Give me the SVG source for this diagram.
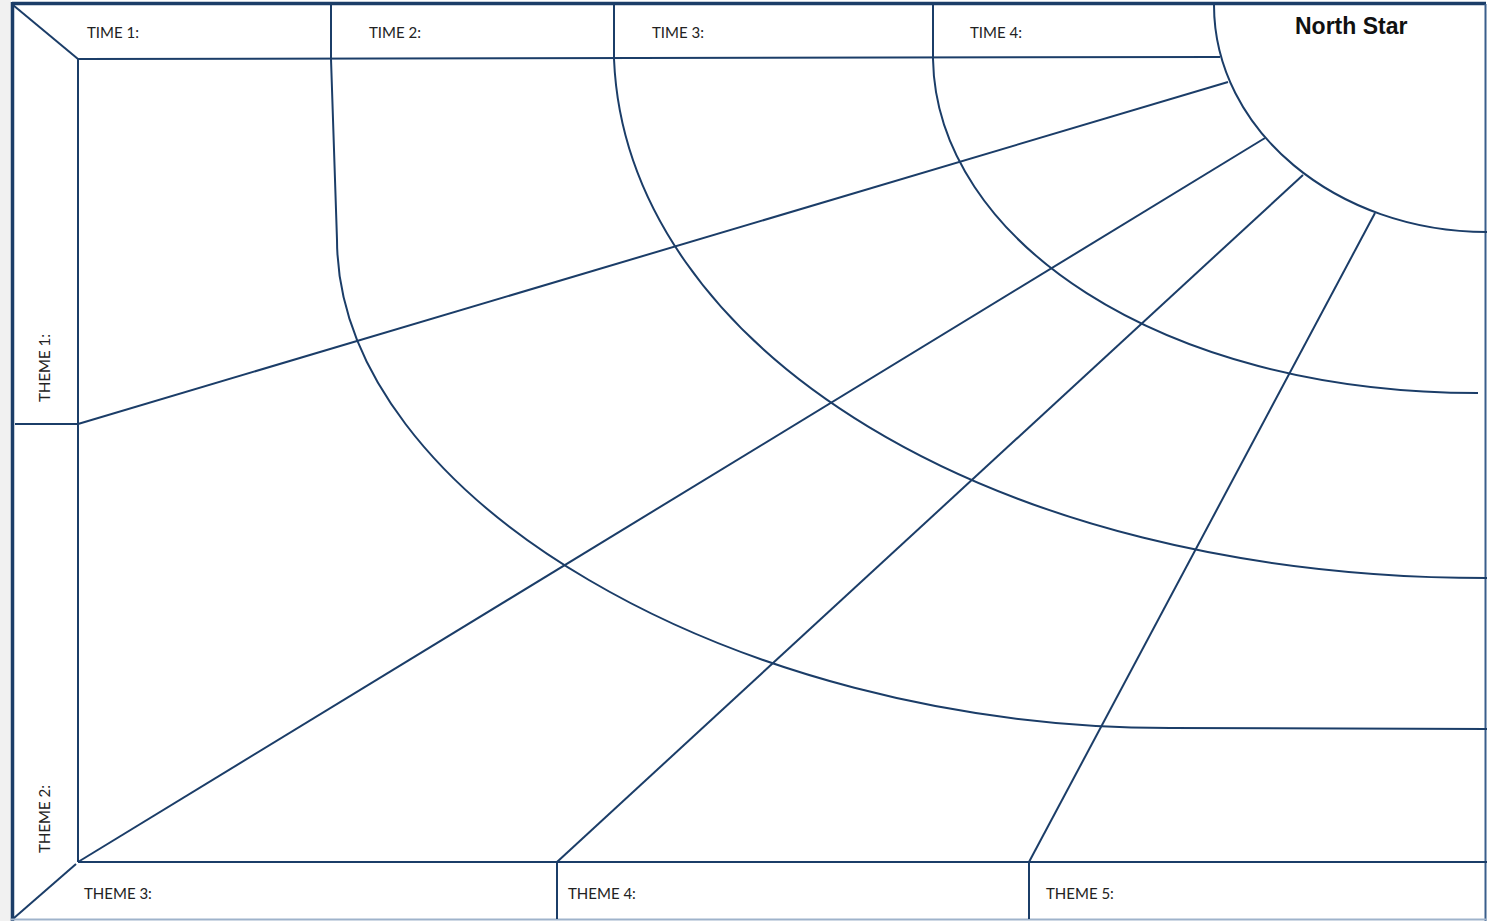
<svg xmlns="http://www.w3.org/2000/svg" width="1487" height="921" viewBox="0 0 1487 921">
<style>
.ln{fill:none;stroke:#1b3d68;stroke-width:2;stroke-linecap:butt}
.lbl{font-family:Lato,"Liberation Sans",sans-serif;font-size:15px;fill:#222}
.ttl{font-family:"Liberation Sans",Arial,sans-serif;font-size:23px;font-weight:bold;fill:#111}
</style>
<rect x="0" y="0" width="1487" height="921" fill="#ffffff"/>
<rect x="0" y="0" width="11" height="921" fill="#f1f1f1"/>
<g id="frame">
<line x1="12" y1="3.5" x2="1486" y2="3.5" stroke="#1b3d68" stroke-width="3.5"/>
<line x1="12.5" y1="2" x2="12.5" y2="921" stroke="#1b3d68" stroke-width="3.5"/>
<line x1="1485.5" y1="4" x2="1485.5" y2="921" stroke="#3a5f8c" stroke-width="2"/>
<line x1="11" y1="919.5" x2="1487" y2="919.5" stroke="#9fb3cb" stroke-width="2"/>
</g>
<g id="connectors">
<path class="ln" d="M13,5 L78,59"/>
<path class="ln" d="M78,59 L1220,57"/>
<path class="ln" d="M78,59 L78,862"/>
<path class="ln" d="M15,424 L78,424"/>
<path class="ln" d="M14,918 L76,864"/>
<path class="ln" d="M78,862 L1487,862"/>
<path class="ln" d="M557,862 L557,919"/>
<path class="ln" d="M1029,862 L1029,919"/>
<path class="ln" d="M331,5 L331,59 L337,240 C338,496 730,728 1170,728 L1487,729"/>
<path class="ln" d="M614,5 L614,59 C626,348 990,578 1487,578"/>
<path class="ln" d="M933,5 L933,59 C936,238 1158,393 1478,393"/>
<path class="ln" d="M1214,5 C1214,130 1336,232 1487,232"/>
<path class="ln" d="M1228,82 L78,424"/>
<path class="ln" d="M1265,138 L78,862"/>
<path class="ln" d="M1303,175 L557,862"/>
<path class="ln" d="M1375,213 L1029,862"/>
</g>
<g id="time1"><text class="lbl" x="87" y="38">TIME 1:</text></g>
<g id="time2"><text class="lbl" x="369" y="38">TIME 2:</text></g>
<g id="time3"><text class="lbl" x="652" y="38">TIME 3:</text></g>
<g id="time4"><text class="lbl" x="970" y="38">TIME 4:</text></g>
<g id="northstar"><text class="ttl" x="1295" y="34">North Star</text></g>
<g id="theme1"><text class="lbl" transform="translate(50,368) rotate(-90)" text-anchor="middle">THEME 1:</text></g>
<g id="theme2"><text class="lbl" transform="translate(50,819) rotate(-90)" text-anchor="middle">THEME 2:</text></g>
<g id="theme3"><text class="lbl" x="84" y="899">THEME 3:</text></g>
<g id="theme4"><text class="lbl" x="568" y="899">THEME 4:</text></g>
<g id="theme5"><text class="lbl" x="1046" y="899">THEME 5:</text></g>
</svg>
